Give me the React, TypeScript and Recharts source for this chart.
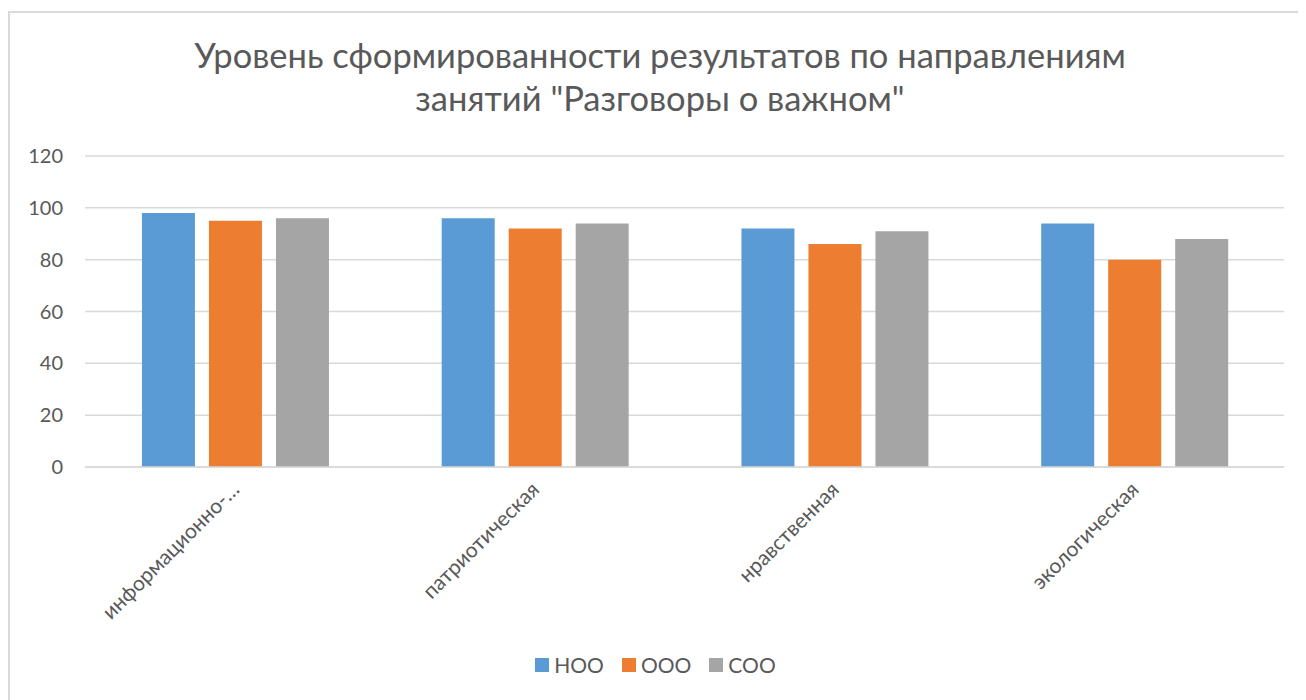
import React from "react";
import { BarChart, Bar, XAxis, YAxis, CartesianGrid, Legend } from "recharts";

const categories = ["информационно-…", "патриотическая", "нравственная", "экологическая"];
const nooValues = [98, 96, 92, 94];
const oooValues = [95, 92, 86, 80];
const sooValues = [96, 94, 91, 88];
const yTicks = [0, 20, 40, 60, 80, 100, 120];
const titleLines = ["Уровень сформированности результатов по направлениям", "занятий \"Разговоры о важном\""];

const data = categories.map((c, i) => ({
  name: c,
  НОО: nooValues[i],
  ООО: oooValues[i],
  СОО: sooValues[i],
}));

const FONT = "Lato, 'Open Sans', sans-serif";
const TEXT = "#595959";

const XTick = (props: any) => {
  const { x, y, payload } = props;
  const ax = x - 6;
  const ay = y + 4;
  return (
    <text
      x={ax}
      y={ay}
      transform={`rotate(-45, ${ax}, ${ay})`}
      textAnchor="end"
      fill={TEXT}
      fontSize={21}
      fontFamily={FONT}
      dominantBaseline="hanging"
    >
      {payload.value}
    </text>
  );
};

const LegendContent = (props: any) => {
  const { payload } = props;
  return (
    <div style={{ display: "flex", justifyContent: "center", fontFamily: FONT, fontSize: 21, color: TEXT, marginLeft: 17, position: "relative", top: 5 }}>
      {payload.map((p: any) => (
        <div key={p.value} style={{ display: "flex", alignItems: "center", margin: "0 9px" }}>
          <div style={{ width: 14, height: 14, background: p.color, marginRight: 5 }} />
          <span>{p.value}</span>
        </div>
      ))}
    </div>
  );
};

export default function App() {
  return (
    <div
      style={{
        position: "relative",
        width: 1298,
        height: 700,
        marginTop: 3,
        borderLeft: "2px solid #d9d9d9",
        borderTop: "2px solid #d9d9d9",
        boxSizing: "border-box",
        background: "#fff",
      }}
    >
      <div
        style={{
          position: "absolute",
          left: -3,
          top: 20,
          width: 1306,
          textAlign: "center",
          fontFamily: FONT,
          fontSize: 34.5,
          color: TEXT,
          lineHeight: "43px",
        }}
      >
        {titleLines.map((t) => (
          <div key={t}>{t}</div>
        ))}
      </div>
      <div style={{ position: "absolute", left: 0, top: 0 }}>
        <BarChart
          width={1296}
          height={688}
          data={data}
          margin={{ top: 143, right: 22, left: 0, bottom: 29 }}
          barCategoryGap="19%"
          barGap={14}
        >
          <CartesianGrid vertical={false} stroke="#d9d9d9" strokeWidth={1.5} />
          <XAxis
            dataKey="name"
            axisLine={{ stroke: "#d9d9d9", strokeWidth: 1.5 }}
            tickLine={false}
            tick={<XTick />}
            interval={0}
            height={180}
          />
          <YAxis
            domain={[0, 120]}
            ticks={yTicks}
            axisLine={false}
            tickLine={false}
            width={75}
            tickMargin={16}
            tick={{ fill: TEXT, fontSize: 20, fontFamily: FONT }}
          />
          <Legend content={<LegendContent />} verticalAlign="bottom" />
          <Bar dataKey="НОО" fill="#5b9bd5" isAnimationActive={false} />
          <Bar dataKey="ООО" fill="#ed7d31" isAnimationActive={false} />
          <Bar dataKey="СОО" fill="#a5a5a5" isAnimationActive={false} />
        </BarChart>
      </div>
    </div>
  );
}
